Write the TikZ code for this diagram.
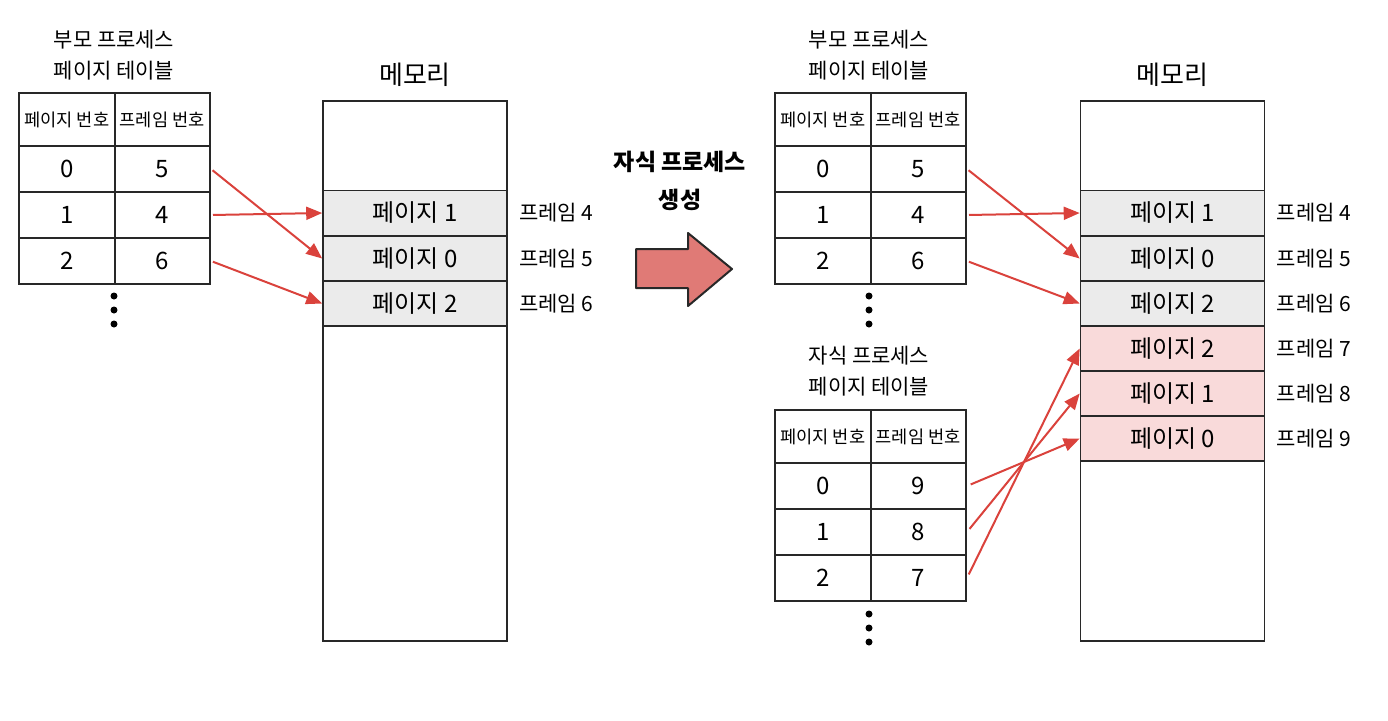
\documentclass[tikz,border=0pt]{standalone}
\usepackage{fontspec}
\setmainfont{Noto Sans CJK KR}
\usetikzlibrary{arrows.meta,positioning}
\definecolor{lineDark}{RGB}{40,40,40}
\definecolor{memGray}{RGB}{235,235,235}
\definecolor{memPink}{RGB}{249,218,218}
\definecolor{arrowRed}{RGB}{218,66,60}
\definecolor{bigRed}{RGB}{224,122,118}
\begin{document}
\begin{tikzpicture}[x=0.5pt,y=-0.5pt,
          hd/.style={draw=lineDark,line width=1pt,minimum width=47.75pt,minimum height=26.5pt,
                     inner sep=0pt,font=\fontsize{8.8}{10}\selectfont},
          cell/.style={draw=lineDark,line width=1pt,minimum width=47.75pt,minimum height=23pt,
                       inner sep=0pt,font=\fontsize{12}{14}\selectfont},
          ttl/.style={font=\fontsize{10.5}{12}\selectfont},
          mem/.style={draw=lineDark,line width=0.8pt,minimum width=92pt,minimum height=270pt,inner sep=0pt},
          seg/.style={draw=lineDark,line width=0.8pt,fill=memGray,minimum width=92pt,minimum height=22.5pt,
                      inner sep=0pt,font=\fontsize{12}{14}\selectfont},
          lbl/.style={font=\fontsize{10.5}{12}\selectfont,inner sep=0pt},
          dot/.style={circle,fill=black,inner sep=0pt,minimum size=3.5pt},
          link/.style={arrowRed,line width=1pt,shorten <=1pt,-{Triangle[length=8pt,width=6.5pt]}}]
  \useasboundingbox (0,0) rectangle (1388,720);
  % parent page table (before fork)
  \node[ttl] (aT1) at (114,40) {부모 프로세스};
  \node[ttl] (aT2) at (114,71) {페이지 테이블};
  \node[hd] (aH1) at (66.75,119.5) {페이지 번호};
  \node[hd] (aH2) at (162.25,119.5) {프레임 번호};
  \node[cell] (aP0) at (66.75,169) {0};
  \node[cell] (aF0) at (162.25,169) {5};
  \node[cell] (aP1) at (66.75,215) {1};
  \node[cell] (aF1) at (162.25,215) {4};
  \node[cell] (aP2) at (66.75,261) {2};
  \node[cell] (aF2) at (162.25,261) {6};
  \node[dot] (aD1) at (114,296) {};
  \node[dot] (aD2) at (114,310) {};
  \node[dot] (aD3) at (114,324) {};
  % memory (before fork)
  \node[font=\fontsize{13}{15}\selectfont] (mAT) at (415,75) {메모리};
  \node[mem] (mA) at (415,371) {};
  \node[seg] (mA4) at (415,213) {페이지 1};
  \node[seg] (mA5) at (415,258.5) {페이지 0};
  \node[seg] (mA6) at (415,303.5) {페이지 2};
  \node[lbl,right=5.5pt of mA4] (fA4) {프레임 4};
  \node[lbl,right=5.5pt of mA5] (fA5) {프레임 5};
  \node[lbl,right=5.5pt of mA6] (fA6) {프레임 6};
  \draw[link] (aF0.east) -- (mA5.west);
  \draw[link] (aF1.east) -- (mA4.west);
  \draw[link] (aF2.east) -- (mA6.west);
  % fork
  \node[font=\bfseries\fontsize{11.5}{13}\selectfont] (fk1) at (680,162) {자식 프로세스};
  \node[font=\bfseries\fontsize{11.5}{13}\selectfont] (fk2) at (680,200) {생성};
  \draw[lineDark,line width=1pt,fill=bigRed,line join=round]
    (636,249) -- (688,249) -- (688,233) -- (732,269) -- (688,306) -- (688,288) -- (636,288) -- cycle;
  % parent page table (after fork)
  \node[ttl] (bT1) at (869,40) {부모 프로세스};
  \node[ttl] (bT2) at (869,71) {페이지 테이블};
  \node[hd] (bH1) at (822.75,119.5) {페이지 번호};
  \node[hd] (bH2) at (918.25,119.5) {프레임 번호};
  \node[cell] (bP0) at (822.75,169) {0};
  \node[cell] (bF0) at (918.25,169) {5};
  \node[cell] (bP1) at (822.75,215) {1};
  \node[cell] (bF1) at (918.25,215) {4};
  \node[cell] (bP2) at (822.75,261) {2};
  \node[cell] (bF2) at (918.25,261) {6};
  \node[dot] (bD1) at (869,296) {};
  \node[dot] (bD2) at (869,310) {};
  \node[dot] (bD3) at (869,324) {};
  % child page table
  \node[ttl] (cT1) at (869,356) {자식 프로세스};
  \node[ttl] (cT2) at (869,387) {페이지 테이블};
  \node[hd] (cH1) at (822.75,436.5) {페이지 번호};
  \node[hd] (cH2) at (918.25,436.5) {프레임 번호};
  \node[cell] (cP0) at (822.75,486) {0};
  \node[cell] (cF0) at (918.25,486) {9};
  \node[cell] (cP1) at (822.75,532) {1};
  \node[cell] (cF1) at (918.25,532) {8};
  \node[cell] (cP2) at (822.75,578) {2};
  \node[cell] (cF2) at (918.25,578) {7};
  \node[dot] (cD1) at (869,614) {};
  \node[dot] (cD2) at (869,628) {};
  \node[dot] (cD3) at (869,642) {};
  % memory (after fork)
  \node[font=\fontsize{13}{15}\selectfont] (mBT) at (1172.5,75) {메모리};
  \node[mem] (mB) at (1172.5,371) {};
  \node[seg] (mB4) at (1172.5,213) {페이지 1};
  \node[seg] (mB5) at (1172.5,258.5) {페이지 0};
  \node[seg] (mB6) at (1172.5,303.5) {페이지 2};
  \node[seg,fill=memPink] (mB7) at (1172.5,348.5) {페이지 2};
  \node[seg,fill=memPink] (mB8) at (1172.5,393.5) {페이지 1};
  \node[seg,fill=memPink] (mB9) at (1172.5,438.5) {페이지 0};
  \node[lbl,right=5.5pt of mB4] (fB4) {프레임 4};
  \node[lbl,right=5.5pt of mB5] (fB5) {프레임 5};
  \node[lbl,right=5.5pt of mB6] (fB6) {프레임 6};
  \node[lbl,right=5.5pt of mB7] (fB7) {프레임 7};
  \node[lbl,right=5.5pt of mB8] (fB8) {프레임 8};
  \node[lbl,right=5.5pt of mB9] (fB9) {프레임 9};
  \draw[link] (bF0.east) -- (mB5.west);
  \draw[link] (bF1.east) -- (mB4.west);
  \draw[link] (bF2.east) -- (mB6.west);
  \draw[link,shorten <=2pt] (cF0.east) -- (mB9.west);
  \draw[link,shorten <=2pt] (cF1.east) -- (mB8.west);
  \draw[link,shorten <=2pt] (cF2.east) -- (mB7.west);
\end{tikzpicture}
\end{document}
